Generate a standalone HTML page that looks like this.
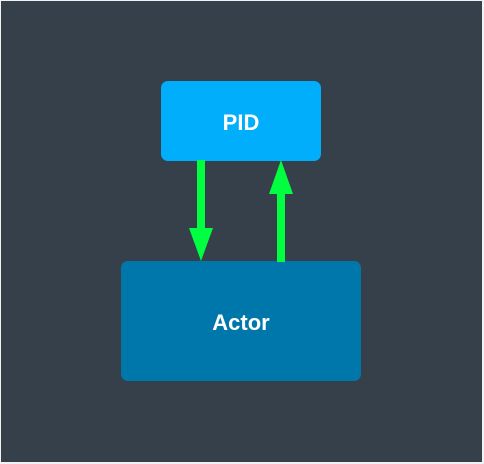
<!DOCTYPE html>
<html><head><style>
html,body{margin:0;padding:0;width:484px;height:464px;background:#f2f2f2;overflow:hidden}
#bg{position:absolute;left:1px;top:1px;width:481px;height:461px;background:#35404a}
.box{position:absolute;border-radius:7px;color:#fff;font:bold 22px "Liberation Sans",sans-serif;display:flex;align-items:center;justify-content:center;box-sizing:border-box;padding-top:4px}
</style></head><body>
<div id="bg"></div>
<div class="box" style="left:161px;top:81px;width:160px;height:80px;background:#00aefc">PID</div>
<div class="box" style="left:121px;top:261px;width:240px;height:120px;background:#0077aa">Actor</div>
<svg width="484" height="464" style="position:absolute;left:0;top:0">
<rect x="197" y="160" width="8" height="70" fill="#00ff40"/>
<polygon points="189,228 213,228 201,261" fill="#00ff40"/>
<rect x="277" y="192" width="8" height="70" fill="#00ff40"/>
<polygon points="269,194 293,194 281,160" fill="#00ff40"/>
</svg>
</body></html>
